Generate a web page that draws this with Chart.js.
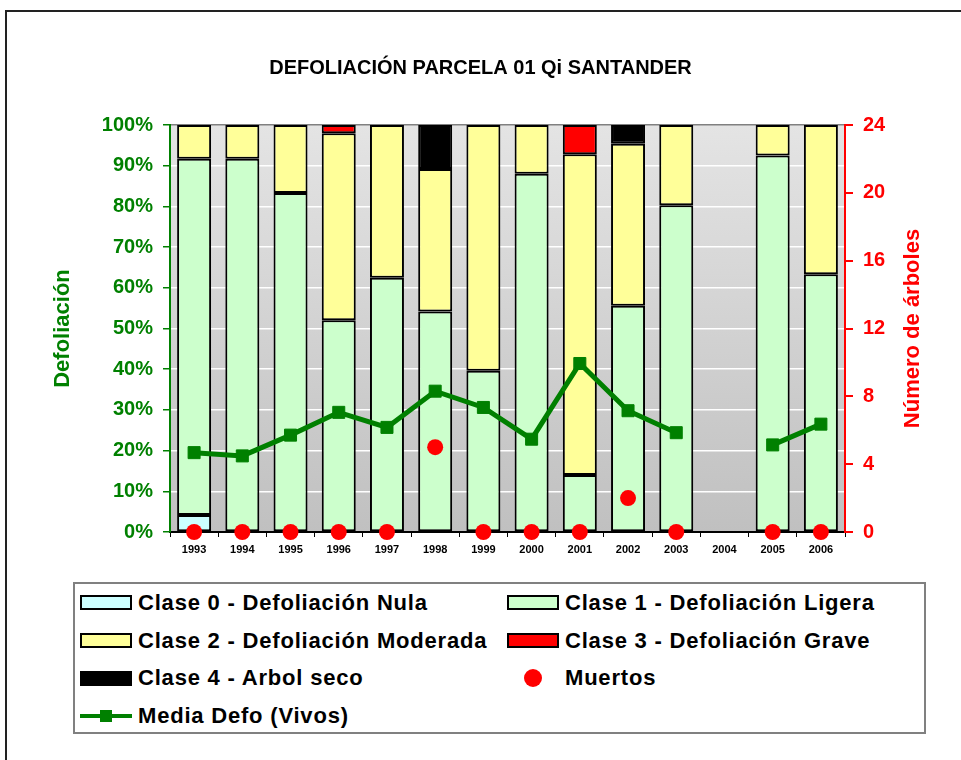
<!DOCTYPE html>
<html>
<head>
<meta charset="utf-8">
<title>Defoliación Parcela 01 Qi Santander</title>
<script src="https://cdn.jsdelivr.net/npm/chart.js@4.4.1/dist/chart.umd.min.js"></script>
<style>
  html, body { margin: 0; padding: 0; background: #fff; }
  body { width: 961px; height: 760px; position: relative; overflow: hidden;
         font-family: 'Liberation Sans', Arial, sans-serif; }
  #frame { position: absolute; left: 5px; top: 10px; width: 1000px; height: 800px;
           border-left: 2px solid #222; border-top: 2px solid #222; }
  #wrap { position: absolute; left: 0; top: 0; width: 961px; height: 760px; }
  #legend { position: absolute; left: 73px; top: 582px; width: 853px; height: 152px;
            box-sizing: border-box; border: 2px solid #808080; background: #fff;
            display: grid; grid-template-columns: 427px 1fr; grid-auto-rows: 37.8px;
            padding-left: 5px; }
  .item { display: flex; align-items: center; font-weight: bold; font-size: 22px;
          letter-spacing: 0.8px; color: #000; white-space: nowrap; }
  .sw { width: 52px; height: 15px; margin-right: 6px; flex: none; position: relative; box-sizing: border-box; }
  .sw.rect { border: 2px solid #000; }
  .sw .dot { position: absolute; left: 17px; top: -1.5px; width: 18px; height: 18px; border-radius: 50%; }
  .sw .ln { position: absolute; left: 0; right: 0; top: 5.5px; height: 4px; }
  .sw .sq { position: absolute; left: 20px; top: 1.5px; width: 12px; height: 12px; }
</style>
</head>
<body>
<div id="frame"></div>
<div id="wrap"><canvas id="chart" width="961" height="760"></canvas></div>
<div id="legend"></div>
<script>
// === Defoliación Parcela 01 Qi Santander ===

const years = ['1993', '1994', '1995', '1996', '1997', '1998', '1999',
               '2000', '2001', '2002', '2003', '2004', '2005', '2006'];

// % de árboles por clase de defoliación
const clase0 = [4.2, 0, 0, 0, 0, 0, 0, 0, 0, 0, 0, 0, 0, 0];
const clase1 = [87.5, 91.7, 83.3, 52.0, 62.5, 54.2, 39.6, 88.0, 14.0, 55.6, 80.3, 0, 92.5, 63.3];
const clase2 = [8.3, 8.3, 16.7, 46.0, 37.5, 35.0, 60.4, 12.0, 78.8, 39.8, 19.7, 0, 7.5, 36.7];
const clase3 = [0, 0, 0, 2.0, 0, 0, 0, 0, 7.2, 0, 0, 0, 0, 0];
const clase4 = [0, 0, 0, 0, 0, 10.8, 0, 0, 0, 4.6, 0, 0, 0, 0];

// media de defoliación (vivos), en %
const mediaDefo = [19.5, 18.7, 23.8, 29.4, 25.7, 34.6, 30.6, 22.8, 41.4, 29.8, 24.4, null, 21.4, 26.5];

// número de árboles muertos
const muertos = [0, 0, 0, 0, 0, 5, 0, 0, 0, 2, 0, null, 0, 0];

const GREEN = '#008000';
const RED = '#ff0000';
const FONT = "'Liberation Sans', Arial, sans-serif";

// plot area wanted: left 170, right 845, top 125, bottom 532
const plotBg = {
  id: 'plotBg',
  beforeDraw(chart) {
    const { ctx, chartArea: a } = chart;
    const g = ctx.createLinearGradient(0, a.top, 0, a.bottom);
    g.addColorStop(0, '#e4e4e4');
    g.addColorStop(1, '#c0c0c0');
    ctx.save();
    ctx.fillStyle = g;
    ctx.fillRect(a.left, a.top, a.right - a.left, a.bottom - a.top);
    ctx.restore();
  },
  afterDraw(chart) {
    // right axis title, reading bottom to top
    const { ctx, chartArea: a } = chart;
    ctx.save();
    ctx.translate(913, (a.top + a.bottom) / 2);
    ctx.rotate(-Math.PI / 2);
    ctx.font = 'bold 22px ' + FONT;
    ctx.fillStyle = RED;
    ctx.textAlign = 'center';
    ctx.textBaseline = 'middle';
    ctx.fillText('Número de árboles', 0, 0);
    ctx.restore();
  },
};

function barSet(label, data, color) {
  return {
    type: 'bar',
    label,
    data,
    backgroundColor: color,
    borderColor: '#000',
    borderWidth: c => (c.raw ? 2 : 0),
    borderSkipped: false,
    barPercentage: 0.705,
    categoryPercentage: 1,
    order: 2,
    stack: 'clases',
  };
}

const chart = new Chart(document.getElementById('chart'), {
  data: {
    labels: years,
    datasets: [
      barSet('Clase 0 - Defoliación Nula', clase0, '#ccffff'),
      barSet('Clase 1 - Defoliación Ligera', clase1, '#ccffcc'),
      barSet('Clase 2 - Defoliación Moderada', clase2, '#ffff99'),
      barSet('Clase 3 - Defoliación Grave', clase3, '#ff0000'),
      barSet('Clase 4 - Arbol seco', clase4, '#000000'),
      {
        type: 'line',
        label: 'Muertos',
        data: muertos,
        yAxisID: 'y1',
        showLine: false,
        pointStyle: 'circle',
        pointRadius: 8,
        pointBackgroundColor: RED,
        pointBorderColor: RED,
        pointBorderWidth: 0,
        clip: false,
        order: 0,
      },
      {
        type: 'line',
        label: 'Media Defo (Vivos)',
        data: mediaDefo,
        stack: 'media',
        borderColor: GREEN,
        borderWidth: 5,
        pointStyle: 'rect',
        pointRadius: 8.5,
        pointBackgroundColor: GREEN,
        pointBorderColor: GREEN,
        pointBorderWidth: 1,
        spanGaps: false,
        clip: false,
        order: 1,
      },
    ],
  },
  options: {
    responsive: false,
    animation: false,
    layout: { padding: { left: 0, right: 0, top: 0, bottom: 198 } },
    plugins: {
      legend: { display: false },
      tooltip: { enabled: false },
      title: {
        display: true,
        text: 'DEFOLIACIÓN PARCELA 01 Qi SANTANDER',
        color: '#000',
        font: { family: FONT, size: 20, weight: 'bold' },
        padding: { top: 56, bottom: 45 },
      },
    },
    scales: {
      x: {
        stacked: true,
        offset: true,
        grid: { offset: true, drawOnChartArea: false, color: '#000', tickLength: 5 },
        border: { color: '#000', width: 2 },
        ticks: { color: '#000', padding: 6, font: { family: FONT, size: 11, weight: 'bold' }, maxRotation: 0 },
        afterFit: s => { s.height = 30; },
      },
      y: {
        stacked: true,
        min: 0,
        max: 100,
        position: 'left',
        ticks: { stepSize: 10, callback: v => v + '%', color: GREEN, padding: 10,
                 font: { family: FONT, size: 20, weight: 'bold' } },
        grid: { color: c => (c.tick && c.tick.value === 100 ? '#808080' : '#ffffff'),
                tickColor: GREEN, tickLength: 7, lineWidth: 1.5 },
        border: { color: GREEN, width: 2 },
        title: { display: true, text: 'Defoliación', color: GREEN,
                 font: { family: FONT, size: 22, weight: 'bold' }, padding: { top: 50 } },
        afterFit: s => { s.width = 170; },
      },
      y1: {
        position: 'right',
        min: 0,
        max: 24,
        ticks: { stepSize: 4, color: RED, padding: 10,
                 font: { family: FONT, size: 20, weight: 'bold' } },
        grid: { drawOnChartArea: false, color: RED, tickLength: 8, lineWidth: 2 },
        border: { color: RED, width: 2 },
        afterFit: s => { s.width = 116; },
      },
    },
  },
  plugins: [plotBg],
});

// === LEGEND (two columns, built from the datasets) ===
function renderLegend() {
  const box = document.getElementById('legend');
  box.innerHTML = chart.data.datasets.map(ds => {
    let sw;
    if (ds.type === 'bar') {
      sw = `<span class="sw rect" style="background:${ds.backgroundColor}"></span>`;
    } else if (ds.showLine === false) {
      sw = `<span class="sw"><span class="dot" style="background:${ds.pointBackgroundColor}"></span></span>`;
    } else {
      sw = `<span class="sw"><span class="ln" style="background:${ds.borderColor}"></span>` +
           `<span class="sq" style="background:${ds.pointBackgroundColor}"></span></span>`;
    }
    return `<div class="item">${sw}<span>${ds.label}</span></div>`;
  }).join('');
}
renderLegend();
</script>
</body>
</html>
